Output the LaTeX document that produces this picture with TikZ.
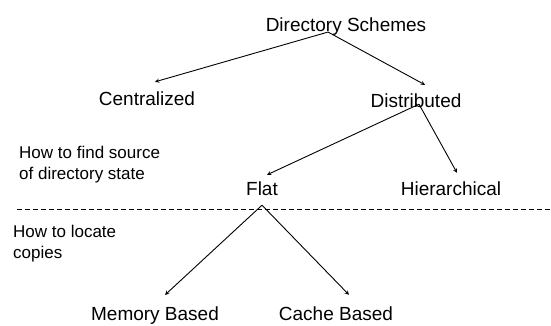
\documentclass[tikz,border=0pt]{standalone}
\usepackage{fontspec}
\setmainfont{Liberation Sans}
\usepackage{tikz}

\begin{document}
\begin{tikzpicture}[x=1pt,y=-1pt,>=stealth,
    every node/.style={inner sep=1pt,font=\fontsize{19}{23}\selectfont},
    note/.style={anchor=north west,inner sep=0pt,align=left,font=\fontsize{17}{21}\selectfont},
    edge/.style={->,line width=0.9pt}]
  \useasboundingbox (0,0) rectangle (551,325);
  \node (ds) at (346,27) {Directory Schemes};
  \node (cen) at (147,99) {Centralized};
  \node (dis) at (416,101) {Distributed};
  \node (flat) at (262,189) {Flat};
  \node (hier) at (451,189) {Hierarchical};
  \node (mem) at (155,316) {Memory Based};
  \node (cache) at (336,314) {Cache Based};
  \node (find) at (19,146) [note] {How to find source\\of directory state};
  \node (locate) at (13,225) [note] {How to locate\\copies};
  \draw[dash pattern=on 5pt off 3pt,line width=0.8pt] (17,209) -- (551,209);
  \draw[edge] ([shift={(-18,-5)}]ds.south) to ([shift={(8,-9)}]cen.north);
  \draw[edge] ([shift={(-18,-5)}]ds.south) to ([shift={(9,-8)}]dis.north);
  \draw[edge] ([shift={(3,-5)}]dis.south) to ([shift={(5,-6)}]flat.north);
  \draw[edge] ([shift={(3,-5)}]dis.south) to ([shift={(6,-8)}]hier.north);
  \draw[edge] ([shift={(0,8)}]flat.south) to ([shift={(10,-11)}]mem.north);
  \draw[edge] ([shift={(0,8)}]flat.south) to ([shift={(13,-11)}]cache.north);
\end{tikzpicture}
\end{document}
